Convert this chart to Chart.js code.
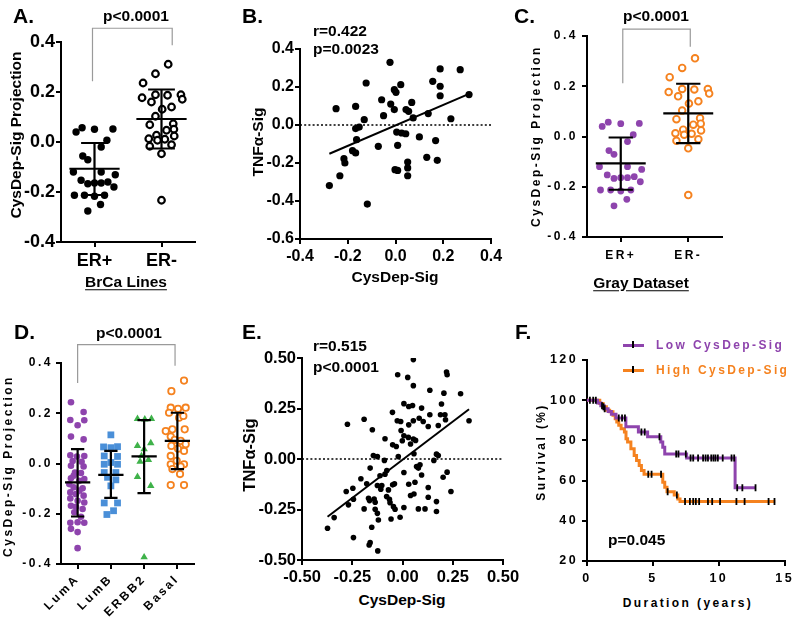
<!DOCTYPE html>
<html>
<head>
<meta charset="utf-8">
<script src="https://cdn.jsdelivr.net/npm/chart.js@4.4.1/dist/chart.umd.min.js"></script>
<style>
html, body { margin: 0; padding: 0; background: #fff; overflow: hidden; }
#fig { position: relative; width: 800px; height: 629px; }
canvas { position: absolute; }
.t { position: absolute; font-family: 'Liberation Sans', Arial, sans-serif; font-weight: bold; color: #000; white-space: nowrap; line-height: 1; }
</style>
</head>
<body>
<div id="fig"></div>
<script>
// ---- A / C : cell lines by ER status (same values in both panels) ----
const erGroups = ['ER+', 'ER-'];
const erPosVal = [0.040, 0.057, 0.051, 0.052, 0.007, -0.020, -0.056, -0.071, -0.120, -0.120, -0.131, -0.153, -0.167, -0.164, -0.164, -0.160, -0.180, -0.213, -0.213, -0.217, -0.213, -0.250, -0.276];
const erPosJit = [-0.275, -0.185, 0, 0.275, 0.185, 0.10, -0.175, -0.10, -0.315, 0.10, 0.31, -0.20, -0.10, 0, 0.10, 0.20, 0.29, -0.30, -0.15, 0, 0.15, 0.09, -0.10];
const erNegVal = [0.311, 0.273, 0.236, 0.177, 0.189, 0.187, 0.189, 0.160, 0.171, 0.140, 0.131, 0.103, 0.069, 0.073, 0.047, 0.051, 0.027, 0.013, 0.007, 0.011, 0.024, -0.017, -0.011, -0.047, -0.233];
const erNegJit = [0.10, -0.09, -0.275, -0.29, -0.09, 0.09, 0.29, -0.15, 0.31, 0.15, 0.01, -0.09, -0.175, 0.175, 0.075, 0.185, -0.075, -0.19, -0.06, 0.05, 0.19, -0.175, 0.15, 0, 0];
const erMean = [-0.107, 0.092];
const erSdHi = [-0.004, 0.210];
const erSdLo = [-0.212, -0.026];

// ---- B : TNFa-Sig vs CysDep-Sig (cell lines) ----
const bX = [-0.023, 0.187, 0.271, -0.123, 0.156, 0.187, -0.005, 0.002, 0.022, 0.187, 0.308, -0.058, -0.020, 0.068, -0.249, -0.167, -0.005, 0.044, 0.055, -0.050, 0.074, 0.137, -0.131, 0.232, -0.152, -0.167, 0.005, 0.026, 0.043, -0.163, 0.100, 0.168, -0.072, 0.009, -0.180, -0.167, 0.131, 0.175, 0.051, -0.216, -0.212, 0.051, -0.002, 0.009, 0.051, -0.233, -0.277, -0.118];
const bY = [0.330, 0.295, 0.291, 0.221, 0.230, 0.204, 0.186, 0.172, 0.212, 0.154, 0.160, 0.133, 0.110, 0.119, 0.086, 0.098, 0.081, 0.081, 0.072, 0.049, 0.037, 0.060, 0.028, 0.033, -0.011, -0.019, -0.037, -0.042, -0.046, -0.077, -0.063, -0.082, -0.112, -0.107, -0.135, -0.147, -0.170, -0.186, -0.195, -0.177, -0.200, -0.226, -0.235, -0.239, -0.267, -0.267, -0.319, -0.416];
const bFit = [0.539, -0.002]; // slope, intercept

// ---- D : tumours by subtype ----
const subtypes = ['LumA', 'LumB', 'ERBB2', 'Basal'];
const lumAVal = [0.244, 0.205, 0.173, 0.152, 0.172, 0.107, 0.096, 0.033, 0.028, 0.030, 0.010, 0.007, -0.009, -0.012, -0.036, -0.038, -0.049, -0.059, -0.069, -0.062, -0.082, -0.095, -0.099, -0.115, -0.122, -0.128, -0.139, -0.148, -0.155, -0.168, -0.181, -0.194, -0.236, -0.234, -0.236, -0.260, -0.273, -0.337, -0.108, -0.172, -0.212];
const lumAJit = [-0.2, 0.18, -0.22, 0, 0.2, -0.2, 0.18, -0.22, -0.02, 0.2, -0.15, 0.12, -0.2, 0.18, -0.08, 0.1, -0.12, -0.2, 0.05, 0.2, -0.25, -0.12, 0.15, -0.22, -0.05, 0.18, -0.22, 0, 0.2, -0.2, 0.15, -0.1, -0.22, 0, 0.2, -0.2, 0, 0, 0.05, -0.05, 0.1];
const lumBVal = [0.114, 0.066, 0.063, 0.067, 0.030, 0.028, -0.003, 0.004, -0.003, -0.036, -0.036, -0.055, -0.065, -0.089, -0.157, -0.157, -0.188, -0.203];
const lumBJit = [0, -0.22, 0, 0.2, -0.2, 0.2, -0.2, 0, 0.2, -0.2, 0.15, -0.1, 0.15, 0, -0.2, 0.2, 0.08, -0.12];
const erbb2Val = [0.178, 0.176, 0.178, 0.070, 0.081, 0.057, 0.030, 0.015, 0.008, -0.053, -0.089, -0.373];
const erbb2Jit = [-0.2, 0.02, 0.22, -0.2, 0.2, 0, -0.08, 0.13, -0.12, -0.2, 0.2, 0];
const basalVal = [0.330, 0.288, 0.222, 0.218, 0.222, 0.202, 0.182, 0.189, 0.129, 0.136, 0.136, 0.107, 0.094, 0.090, 0.077, 0.070, 0.059, 0.050, 0.030, 0.011, -0.003, -0.003, -0.012, -0.022, -0.042, -0.086, -0.086];
const basalJit = [0.2, -0.18, -0.2, 0.02, 0.25, -0.25, 0.05, 0.18, -0.35, -0.15, 0.22, -0.2, -0.08, 0.1, 0.25, -0.18, 0.02, 0.2, -0.2, -0.02, -0.2, 0.2, 0.1, -0.15, 0.08, -0.2, 0.2];
const subMean = [-0.075, -0.045, 0.028, 0.090];
const subSdHi = [0.057, 0.050, 0.173, 0.202];
const subSdLo = [-0.211, -0.137, -0.118, -0.022];

// ---- E : TNFa-Sig vs CysDep-Sig (tumours) ----
const eX = [0.054, -0.024, 0.026, 0.219, 0.222, 0.054, 0.136, 0.206, 0.289, 0.007, 0.031, 0.050, 0.095, 0.194, -0.274, -0.191, -0.050, 0.189, 0.211, 0.136, 0.331, -0.026, -0.009, 0.054, 0.083, 0.103, 0.128, 0.214, 0.031, -0.150, 0.178, -0.007, 0.007, 0.029, 0.054, 0.065, -0.001, -0.049, -0.031, -0.087, 0.040, -0.145, -0.125, -0.021, 0.057, 0.156, 0.169, 0.178, -0.090, -0.161, -0.078, 0.007, 0.070, 0.087, 0.079, 0.095, -0.207, -0.112, -0.087, 0.202, 0.222, -0.178, -0.125, -0.103, -0.049, -0.040, 0.031, 0.062, 0.128, -0.280, -0.247, -0.070, 0.241, -0.108, -0.169, -0.164, -0.141, -0.079, -0.065, 0.040, 0.057, 0.128, -0.244, -0.269, -0.136, -0.062, -0.045, -0.037, 0.007, 0.079, 0.112, 0.169, 0.169, -0.191, -0.136, -0.125, -0.120, -0.057, -0.012, -0.340, -0.153, -0.373, -0.244, -0.166, -0.161, -0.123];
const eY = [0.492, 0.417, 0.404, 0.431, 0.417, 0.363, 0.340, 0.326, 0.323, 0.274, 0.260, 0.265, 0.252, 0.272, 0.172, 0.197, 0.231, 0.219, 0.219, 0.219, 0.189, 0.189, 0.186, 0.189, 0.202, 0.186, 0.161, 0.194, 0.169, 0.145, 0.166, 0.141, 0.115, 0.107, 0.099, 0.092, 0.090, 0.070, 0.062, 0.100, 0.074, 0.017, 0.012, 0.012, 0.026, -0.007, 0.024, 0.017, -0.007, -0.045, -0.057, -0.067, -0.037, -0.029, -0.045, -0.079, -0.098, -0.083, -0.075, -0.090, -0.065, -0.123, -0.131, -0.131, -0.128, -0.123, -0.125, -0.115, -0.141, -0.161, -0.145, -0.153, -0.161, -0.150, -0.194, -0.206, -0.198, -0.186, -0.199, -0.181, -0.173, -0.189, -0.199, -0.227, -0.214, -0.216, -0.236, -0.249, -0.240, -0.247, -0.247, -0.260, -0.211, -0.247, -0.249, -0.269, -0.302, -0.297, -0.288, -0.290, -0.338, -0.343, -0.389, -0.426, -0.414, -0.455];
const eFit = [0.755, -0.004];

// ---- F : survival ----
const lowTime = [0, 0.8, 1.05, 1.3, 1.6, 1.85, 2.2, 2.95, 3.9, 4.6, 5.6, 5.75, 5.9, 7.56, 11.24, 12.8];
const lowSurv = [100, 98.6, 97.2, 95.8, 94.4, 93, 91.2, 86.8, 84.2, 81.8, 79.2, 76.6, 73.2, 71.2, 56.5, 56.5];
const lowCensor = [0.22, 0.47, 0.67, 1.14, 1.34, 2.41, 2.66, 2.88, 4.13, 4.38, 5.5, 6.77, 6.94, 7.5, 7.86, 8.06, 8.43, 8.81, 9.0, 9.18, 9.43, 9.6, 9.75, 9.93, 10.3, 10.97, 11.17, 11.4, 11.79, 12.79];
const highTime = [0, 0.97, 1.22, 1.47, 1.72, 1.97, 2.14, 2.26, 2.41, 2.59, 2.84, 2.96, 3.08, 3.33, 3.58, 3.76, 3.96, 4.13, 4.33, 5.75, 5.9, 6.07, 6.62, 6.89, 7.06, 14.28];
const highSurv = [100, 98.3, 96.7, 95, 94.2, 92.5, 90.8, 89.2, 87.5, 85.8, 84.2, 80.8, 79.2, 75.8, 72.5, 70, 67.5, 65, 63.2, 59.2, 56.7, 54.5, 52.8, 50.8, 49.6, 49.6];
const highCensor = [1.25, 4.65, 4.9, 5.62, 6.12, 6.82, 7.44, 7.81, 8.06, 8.26, 8.51, 9.18, 9.5, 10.1, 11.34, 11.96, 13.78, 14.23];

const PURPLE = '#8e44ad';
const ORANGE = '#f5821f';
const BLUE = '#4a8fd8';
const GREEN = '#3fb24a';
const FAMILY = "'Liberation Sans', Arial, sans-serif";

const fig = document.getElementById('fig');

function bold(size) { return { family: FAMILY, size: size, weight: 'bold' }; }
const fmt1 = v => (Math.abs(v) < 1e-9 ? 0 : v).toFixed(1);
const fmt2 = v => (Math.abs(v) < 1e-9 ? 0 : v).toFixed(2);
const fmt0 = v => String(Math.round(v));

const axisGrid = { drawOnChartArea: false, drawTicks: true, tickLength: 5, lineWidth: 2, color: '#000' };
const axisBorder = { display: true, color: '#000', width: 2 };

function yLin(min, max, step, fmt, size, pad) {
    return { type: 'linear', min: min, max: max,
        ticks: { stepSize: step, callback: fmt, font: bold(size), color: '#000', padding: pad },
        grid: axisGrid, border: axisBorder };
}
function xLin(min, max, step, fmt, size, pad) {
    return { type: 'linear', min: min, max: max,
        ticks: { stepSize: step, callback: fmt, font: bold(size), color: '#000', padding: pad, maxRotation: 0 },
        grid: axisGrid, border: axisBorder };
}
function xCat(labels, min, max, size, pad, rot) {
    return { type: 'linear', min: min, max: max,
        afterBuildTicks: s => { s.ticks = labels.map((_, i) => ({ value: i + 1 })); },
        ticks: { callback: v => labels[v - 1], font: bold(size), color: '#000', padding: pad,
            autoSkip: false, maxRotation: rot, minRotation: rot },
        grid: axisGrid, border: axisBorder };
}

function spacing(px) {
    return { id: 'spacing',
        beforeUpdate(c) { c.ctx.letterSpacing = px + 'px'; },
        beforeDraw(c) { c.ctx.letterSpacing = px + 'px'; } };
}

function statBars(means, hi, lo, halfW, capW) {
    return { id: 'stats', afterDatasetsDraw(chart) {
        const { ctx, scales: { x, y } } = chart;
        ctx.save();
        ctx.strokeStyle = '#000';
        ctx.lineWidth = 2.2;
        ctx.beginPath();
        means.forEach((m, i) => {
            const c = i + 1;
            ctx.moveTo(x.getPixelForValue(c - halfW), y.getPixelForValue(m));
            ctx.lineTo(x.getPixelForValue(c + halfW), y.getPixelForValue(m));
            ctx.moveTo(x.getPixelForValue(c), y.getPixelForValue(hi[i]));
            ctx.lineTo(x.getPixelForValue(c), y.getPixelForValue(lo[i]));
            [hi[i], lo[i]].forEach(v => {
                ctx.moveTo(x.getPixelForValue(c - capW), y.getPixelForValue(v));
                ctx.lineTo(x.getPixelForValue(c + capW), y.getPixelForValue(v));
            });
        });
        ctx.stroke();
        ctx.restore();
    } };
}

function bracket(x1, x2, top, end1, end2) {
    return { id: 'bracket', afterDraw(chart) {
        const { ctx, scales: { x, y } } = chart;
        ctx.save();
        ctx.strokeStyle = '#9a9a9a';
        ctx.lineWidth = 1.2;
        ctx.beginPath();
        ctx.moveTo(x.getPixelForValue(x1), y.getPixelForValue(end1));
        ctx.lineTo(x.getPixelForValue(x1), y.getPixelForValue(top));
        ctx.lineTo(x.getPixelForValue(x2), y.getPixelForValue(top));
        ctx.lineTo(x.getPixelForValue(x2), y.getPixelForValue(end2));
        ctx.stroke();
        ctx.restore();
    } };
}

const zeroLine = { id: 'zero', beforeDatasetsDraw(chart) {
    const { ctx, chartArea: a, scales: { y } } = chart;
    const py = y.getPixelForValue(0);
    ctx.save();
    ctx.setLineDash([2, 2.2]);
    ctx.lineWidth = 1.6;
    ctx.strokeStyle = '#000';
    ctx.beginPath();
    ctx.moveTo(a.left, py);
    ctx.lineTo(a.right, py);
    ctx.stroke();
    ctx.restore();
} };

// canvas placed so that the plot area lands on the given box
function panel(box, yw, xh, padTop, padRight, config) {
    const c = document.createElement('canvas');
    const w = box.r - box.l + yw + padRight;
    const h = box.b - box.t + padTop + xh;
    c.width = w; c.height = h;
    c.style.left = (box.l - yw) + 'px';
    c.style.top = (box.t - padTop) + 'px';
    c.style.width = w + 'px';
    c.style.height = h + 'px';
    fig.appendChild(c);
    const o = config.options;
    o.responsive = false;
    o.animation = false;
    o.events = [];
    o.layout = { padding: { top: padTop, right: padRight, left: 0, bottom: 0 } };
    o.plugins = { legend: { display: false }, tooltip: { enabled: false } };
    o.scales.y.afterFit = s => { s.width = yw; };
    o.scales.x.afterFit = s => { s.height = xh; };
    return new Chart(c, config);
}

function label(txt, x, y, opt) {
    opt = opt || {};
    const d = document.createElement('div');
    d.className = 't';
    d.textContent = txt;
    d.style.fontSize = (opt.size || 15.5) + 'px';
    if (opt.spacing) d.style.letterSpacing = opt.spacing + 'px';
    if (opt.color) d.style.color = opt.color;
    if (opt.underline) { d.style.textDecoration = 'underline'; d.style.textUnderlineOffset = '2px'; }
    d.style.left = x + 'px';
    d.style.top = y + 'px';
    let tf = opt.left ? 'translate(0,-50%)' : 'translate(-50%,-50%)';
    if (opt.rotate) tf += ' rotate(-90deg)';
    d.style.transform = tf;
    fig.appendChild(d);
}

function jittered(vals, jit, cat) {
    return vals.map((v, i) => ({ x: cat + jit[i], y: v }));
}
function pairs(xs, ys) { return xs.map((x, i) => ({ x: x, y: ys[i] })); }
function fitLine(xs, fit) {
    const lo = Math.min(...xs), hi = Math.max(...xs);
    return [{ x: lo, y: fit[0] * lo + fit[1] }, { x: hi, y: fit[0] * hi + fit[1] }];
}
function survAt(times, surv, t) {
    let s = surv[0];
    times.forEach((tt, i) => { if (tt <= t) s = surv[i]; });
    return s;
}

// ---------- A ----------
panel({ l: 61, r: 195, t: 42, b: 242 }, 60, 32, 30, 10, {
    type: 'scatter',
    data: { datasets: [
        { data: jittered(erPosVal, erPosJit, 1), pointRadius: 3.7, backgroundColor: '#000', borderColor: '#000', borderWidth: 0 },
        { data: jittered(erNegVal, erNegJit, 2), pointRadius: 3.3, backgroundColor: '#fff', borderColor: '#000', borderWidth: 2.2 }
    ] },
    options: { scales: { x: xCat(erGroups, 0.5, 2.5, 18, 3, 0), y: yLin(-0.4, 0.4, 0.2, fmt1, 18, 1) } },
    plugins: [statBars(erMean, erSdHi, erSdLo, 0.375, 0.2), bracket(0.97, 2.16, 0.455, 0.243, 0.387)]
});

// ---------- B ----------
panel({ l: 300, r: 491, t: 49, b: 239 }, 50, 26, 14, 16, {
    type: 'scatter',
    data: { datasets: [
        { type: 'line', data: fitLine(bX, bFit), borderColor: '#000', borderWidth: 2, pointRadius: 0 },
        { data: pairs(bX, bY), pointRadius: 3.6, backgroundColor: '#000', borderColor: '#000', borderWidth: 0 }
    ] },
    options: { scales: { x: xLin(-0.4, 0.4, 0.2, fmt1, 16, 3), y: yLin(-0.6, 0.4, 0.2, fmt1, 16, 1) } },
    plugins: [zeroLine]
});

// ---------- C ----------
panel({ l: 587, r: 722, t: 36, b: 237 }, 50, 32, 30, 10, {
    type: 'scatter',
    data: { datasets: [
        { data: jittered(erPosVal, erPosJit, 1), pointRadius: 3.4, backgroundColor: PURPLE, borderColor: PURPLE, borderWidth: 0 },
        { data: jittered(erNegVal, erNegJit, 2), pointRadius: 3.3, backgroundColor: '#fff', borderColor: ORANGE, borderWidth: 1.9 }
    ] },
    options: { scales: { x: xCat(erGroups, 0.5, 2.5, 12, 6, 0), y: yLin(-0.4, 0.4, 0.2, fmt1, 12, 4) } },
    plugins: [spacing(2.5), statBars(erMean, erSdHi, erSdLo, 0.37, 0.18), bracket(1.03, 2.03, 0.427, 0.212, 0.357)]
});

// ---------- D ----------
panel({ l: 61, r: 194, t: 363, b: 564 }, 50, 60, 25, 8, {
    type: 'scatter',
    data: { datasets: [
        { data: jittered(lumAVal, lumAJit, 1), pointRadius: 3.3, backgroundColor: PURPLE, borderColor: PURPLE, borderWidth: 0 },
        { data: jittered(lumBVal, lumBJit, 2), pointStyle: 'rect', pointRadius: 4.8, backgroundColor: BLUE, borderColor: BLUE, borderWidth: 0 },
        { data: jittered(erbb2Val, erbb2Jit, 3), pointStyle: 'triangle', pointRadius: 4.3, backgroundColor: GREEN, borderColor: GREEN, borderWidth: 0 },
        { data: jittered(basalVal, basalJit, 4), pointRadius: 3.2, backgroundColor: '#fff', borderColor: ORANGE, borderWidth: 1.8 }
    ] },
    options: { scales: { x: xCat(subtypes, 0.5, 4.5, 12, 3, 45), y: yLin(-0.4, 0.4, 0.2, fmt1, 12, 3) } },
    plugins: [spacing(2.5), statBars(subMean, subSdHi, subSdLo, 0.38, 0.2), bracket(1.0, 3.93, 0.473, 0.32, 0.389)]
});

// ---------- E ----------
panel({ l: 302, r: 503, t: 358, b: 560 }, 52, 26, 14, 20, {
    type: 'scatter',
    data: { datasets: [
        { type: 'line', data: fitLine(eX, eFit), borderColor: '#000', borderWidth: 2, pointRadius: 0 },
        { data: pairs(eX, eY), pointRadius: 2.8, backgroundColor: '#000', borderColor: '#000', borderWidth: 0 }
    ] },
    options: { scales: { x: xLin(-0.5, 0.5, 0.25, fmt2, 16.5, 3), y: yLin(-0.5, 0.5, 0.25, fmt2, 16.5, 1) } },
    plugins: [zeroLine]
});

// ---------- F ----------
const censorStyle = { pointStyle: 'line', rotation: 90, pointRadius: 3.5, borderColor: '#000', borderWidth: 1.8, backgroundColor: '#000' };
panel({ l: 587, r: 788, t: 360, b: 561 }, 42, 26, 12, 11, {
    type: 'scatter',
    data: { datasets: [
        Object.assign({ data: lowCensor.map(t => ({ x: t, y: survAt(lowTime, lowSurv, t) })) }, censorStyle),
        Object.assign({ data: highCensor.map(t => ({ x: t, y: survAt(highTime, highSurv, t) })) }, censorStyle),
        { type: 'line', data: pairs(lowTime, lowSurv), stepped: 'before', borderColor: PURPLE, borderWidth: 3, pointRadius: 0 },
        { type: 'line', data: pairs(highTime, highSurv), stepped: 'before', borderColor: ORANGE, borderWidth: 3, pointRadius: 0 }
    ] },
    options: { scales: { x: xLin(0, 15, 5, fmt0, 12.5, 5), y: yLin(20, 120, 20, fmt0, 12.5, 4) } },
    plugins: [spacing(2.4)]
});

// ---------- text ----------
label('A.', 13, 15, { size: 21, left: true });
label('p<0.0001', 136, 16);
label('CysDep-Sig Projection', 16, 135, { rotate: true });
label('BrCa Lines', 126, 282, { underline: true });

label('B.', 242, 15, { size: 21, left: true });
label('r=0.422', 313, 31, { left: true });
label('p=0.0023', 313, 49, { left: true });
label('TNF\u03b1-Sig', 258, 142, { rotate: true });
label('CysDep-Sig', 395, 277);

label('C.', 514, 15, { size: 21, left: true });
label('p<0.0001', 656, 16);
label('CysDep-Sig Projection', 536, 136, { rotate: true, size: 12, spacing: 2.5 });
label('Gray Dataset', 641, 283, { underline: true });

label('D.', 14, 331, { size: 21, left: true });
label('p<0.0001', 129, 333);
label('CysDep-Sig Projection', 8, 466, { rotate: true, size: 12, spacing: 2.5 });

label('E.', 242, 331, { size: 21, left: true });
label('r=0.515', 313, 346, { left: true });
label('p<0.0001', 313, 367, { left: true });
label('TNF\u03b1-Sig', 249, 455, { rotate: true, size: 16.5 });
label('CysDep-Sig', 402, 600);

label('F.', 515, 331, { size: 21, left: true });
label('Survival (%)', 541, 452, { rotate: true, size: 12, spacing: 2.4 });
label('Duration (years)', 688, 603, { size: 12, spacing: 2.4 });
label('p=0.045', 608, 540, { left: true });

// F legend
[[PURPLE, 'Low CysDep-Sig', 345], [ORANGE, 'High CysDep-Sig', 370]].forEach(([col, txt, y]) => {
    const ln = document.createElement('div');
    ln.style.cssText = 'position:absolute;left:623px;width:21px;height:3px;top:' + (y - 1.5) + 'px;background:' + col;
    fig.appendChild(ln);
    const tk = document.createElement('div');
    tk.style.cssText = 'position:absolute;left:632px;width:2px;height:7px;top:' + (y - 4.5) + 'px;background:#000';
    fig.appendChild(tk);
    label(txt, 656, y, { size: 12, spacing: 2.4, color: col, left: true });
});
</script>
</body>
</html>
